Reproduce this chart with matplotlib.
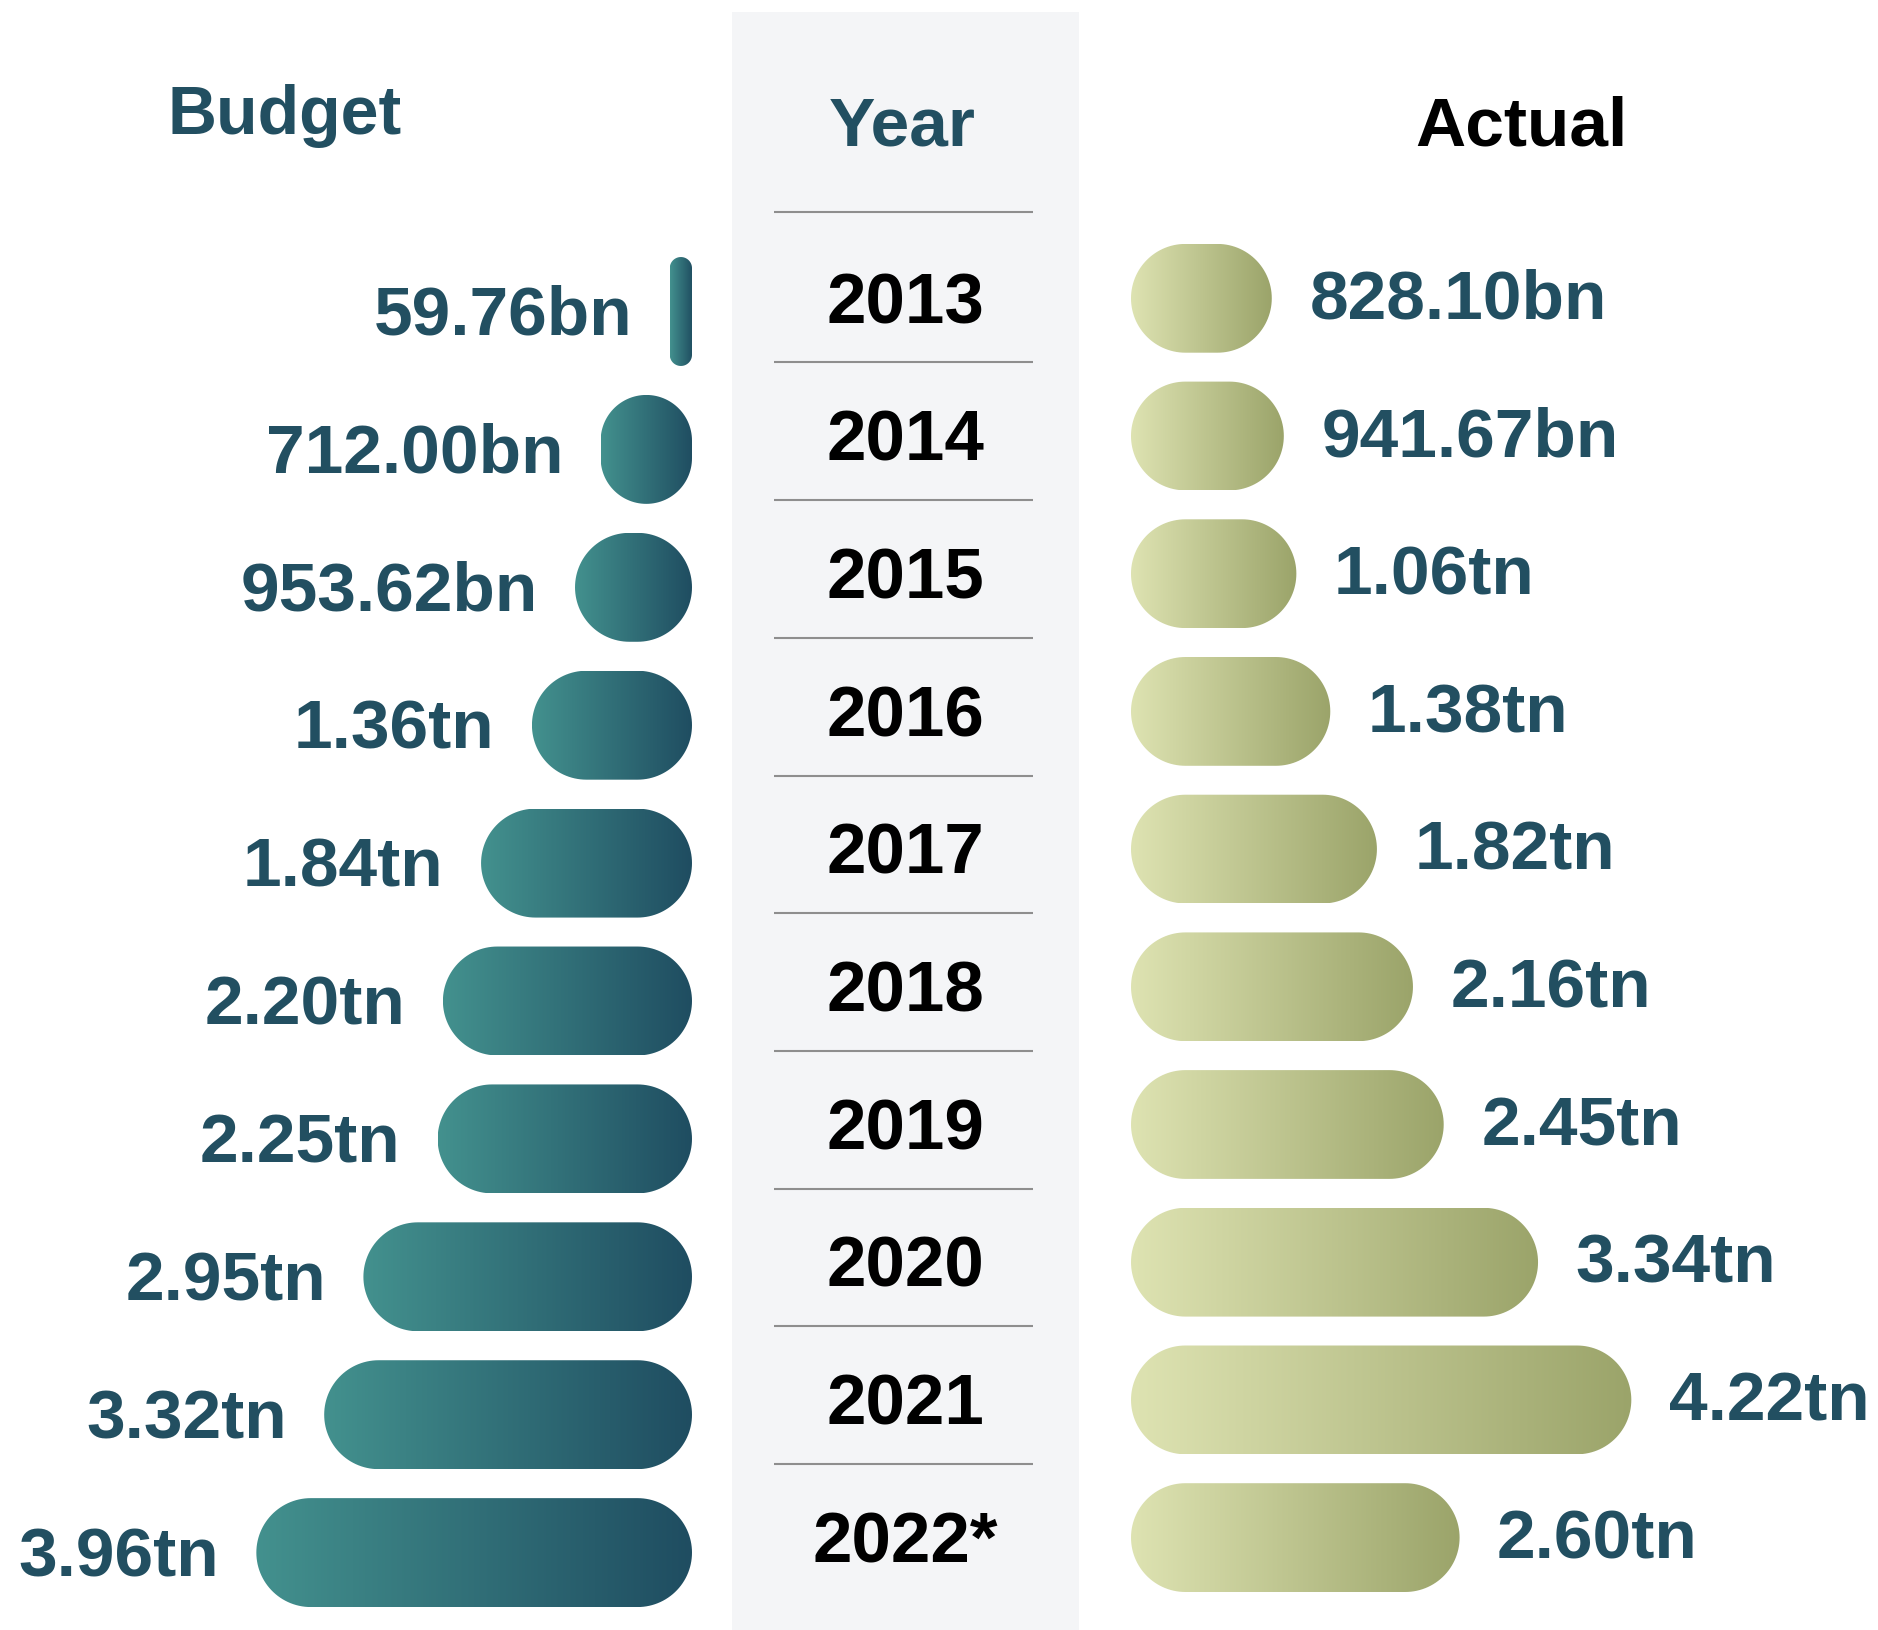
import numpy as np
import matplotlib
matplotlib.use("Agg")
import matplotlib.pyplot as plt
from matplotlib.path import Path
from matplotlib.patches import PathPatch
from matplotlib.colors import LinearSegmentedColormap

# datos
years = ["2013", "2014", "2015", "2016", "2017", "2018", "2019", "2020", "2021", "2022*"]
budget = [0.05976, 0.712, 0.95362, 1.36, 1.84, 2.20, 2.25, 2.95, 3.32, 3.96]   # tn
actual = [0.8281, 0.94167, 1.06, 1.38, 1.82, 2.16, 2.45, 3.34, 4.22, 2.60]     # tn
budget_labels = ["59.76bn", "712.00bn", "953.62bn", "1.36tn", "1.84tn",
                 "2.20tn", "2.25tn", "2.95tn", "3.32tn", "3.96tn"]
actual_labels = ["828.10bn", "941.67bn", "1.06tn", "1.38tn", "1.82tn",
                 "2.16tn", "2.45tn", "3.34tn", "4.22tn", "2.60tn"]

W, H, DPI = 1878, 1630, 100
PX_X = 106.0          # px por tn
ROW_B = 137.9         # px por fila (budget)
ROW_A = 137.7         # px por fila (actual / year)
BAR_H = 0.79          # alto de barra en filas
PAD_B = 0.15
PAD_A = 0.5
TEAL = "#224F61"
FONT = "Liberation Sans"
VSIZE = 50

cmap_b = LinearSegmentedColormap.from_list("b", ["#43918E", "#1F4D61"])
cmap_a = LinearSegmentedColormap.from_list("a", ["#DEE3B2", "#9BA46A"])

fig = plt.figure(figsize=(W / DPI, H / DPI), dpi=DPI)
fig.patch.set_facecolor("white")


def rounded_rect(x0, x1, yc, h, sx, sy):
    # rectangulo con esquinas redondeadas (radio en px) en coordenadas de datos
    w_px = abs(x1 - x0) * sx
    h_px = h * sy
    r = min(w_px, h_px) / 2
    rx, ry = r / sx, r / sy
    xl, xr = min(x0, x1), max(x0, x1)
    yb, yt = yc - h / 2, yc + h / 2
    t = np.linspace(0, np.pi / 2, 30)
    pts = []
    for cx, cy, a0 in [(xr - rx, yt - ry, 0), (xl + rx, yt - ry, np.pi / 2),
                       (xl + rx, yb + ry, np.pi), (xr - rx, yb + ry, 1.5 * np.pi)]:
        pts += list(zip(cx + rx * np.cos(t + a0), cy + ry * np.sin(t + a0)))
    pts.append(pts[0])
    return Path(pts, closed=True)


def gradient_bar(ax, x0, x1, yc, sy, cmap, reverse=False):
    path = rounded_rect(x0, x1, yc, BAR_H, PX_X, sy)
    patch = PathPatch(path, facecolor="none", edgecolor="none")
    ax.add_patch(patch)
    grad = np.linspace(0, 1, 256).reshape(1, -1)
    xl, xr = min(x0, x1), max(x0, x1)
    # en el eje invertido el degradado va de izquierda (claro) a derecha (oscuro)
    im = ax.imshow(grad, cmap=cmap, aspect="auto", interpolation="bilinear",
                   extent=(xl, xr, yc + BAR_H / 2, yc - BAR_H / 2) if not reverse
                   else (xr, xl, yc + BAR_H / 2, yc - BAR_H / 2))
    im.set_clip_path(patch)


# --- columna central (Year) ---
mx0, mx1 = 732 / W, 1079 / W
axm = fig.add_axes([mx0, 0, mx1 - mx0, (H - 12) / H])
axm.set_facecolor("#F4F5F7")
axm.set_xlim(0, 1)
top_m = (12 - 297.7) / ROW_A
axm.set_ylim((H - 297.7) / ROW_A, top_m)
for i, y in enumerate(years):
    axm.annotate(y, (0.5, i), xytext=(0, -0.358 * 51), textcoords="offset points",
                 ha="center", va="baseline", fontsize=51, fontweight="bold",
                 family=FONT, color="black")
lines = [-0.62] + [i + 0.47 for i in range(len(years) - 1)]
axm.hlines(lines, 0.121, 0.867, color="#8E8E8E", lw=1.5)
axm.axis("off")
axm.add_patch(plt.Rectangle((0, 0), 1, 1, transform=axm.transAxes,
                            facecolor="#F4F5F7", zorder=-1))

# --- Budget (izquierda) ---
bw = 692 / W
axb = fig.add_axes([0, 0, bw, 1])
axb.set_xlim(-PAD_B + 692 / PX_X, -PAD_B)
axb.set_ylim((H - 311.5) / ROW_B, -311.5 / ROW_B)
for i, v in enumerate(budget):
    gradient_bar(axb, -PAD_B, v, i, ROW_B, cmap_b, reverse=True)
    axb.annotate(budget_labels[i], (v, i), xytext=(-27, -0.358 * VSIZE + 1),
                 textcoords="offset points", ha="right", va="baseline",
                 fontsize=VSIZE, fontweight="bold", family=FONT, color=TEAL)
axb.set_xlim(-PAD_B + 692 / PX_X, -PAD_B)
axb.set_ylim((H - 311.5) / ROW_B, -311.5 / ROW_B)
axb.axis("off")

# --- Actual (derecha) ---
ax0 = 1131 / W
axa = fig.add_axes([ax0, 0, 1 - ax0, 1])
axa.set_xlim(-PAD_A, -PAD_A + (W - 1131) / PX_X)
axa.set_ylim((H - 298.3) / ROW_A, -298.3 / ROW_A)
for i, v in enumerate(actual):
    gradient_bar(axa, -PAD_A, v, i, ROW_A, cmap_a)
    axa.annotate(actual_labels[i], (v, i), xytext=(27, -0.358 * VSIZE + 3),
                 textcoords="offset points", ha="left", va="baseline",
                 fontsize=VSIZE, fontweight="bold", family=FONT, color=TEAL)
axa.set_xlim(-PAD_A, -PAD_A + (W - 1131) / PX_X)
axa.set_ylim((H - 298.3) / ROW_A, -298.3 / ROW_A)
axa.axis("off")

# --- encabezados ---
fig.text(284.5 / W, 1 - 134 / H, "Budget", ha="center", va="baseline",
         fontsize=49, fontweight="bold", family=FONT, color=TEAL)
fig.text(902 / W, 1 - 146 / H, "Year", ha="center", va="baseline",
         fontsize=50, fontweight="bold", family=FONT, color=TEAL)
fig.text(1521 / W, 1 - 146 / H, "Actual", ha="center", va="baseline",
         fontsize=50, fontweight="bold", family=FONT, color="black")

fig.savefig("out.png", dpi=DPI)
